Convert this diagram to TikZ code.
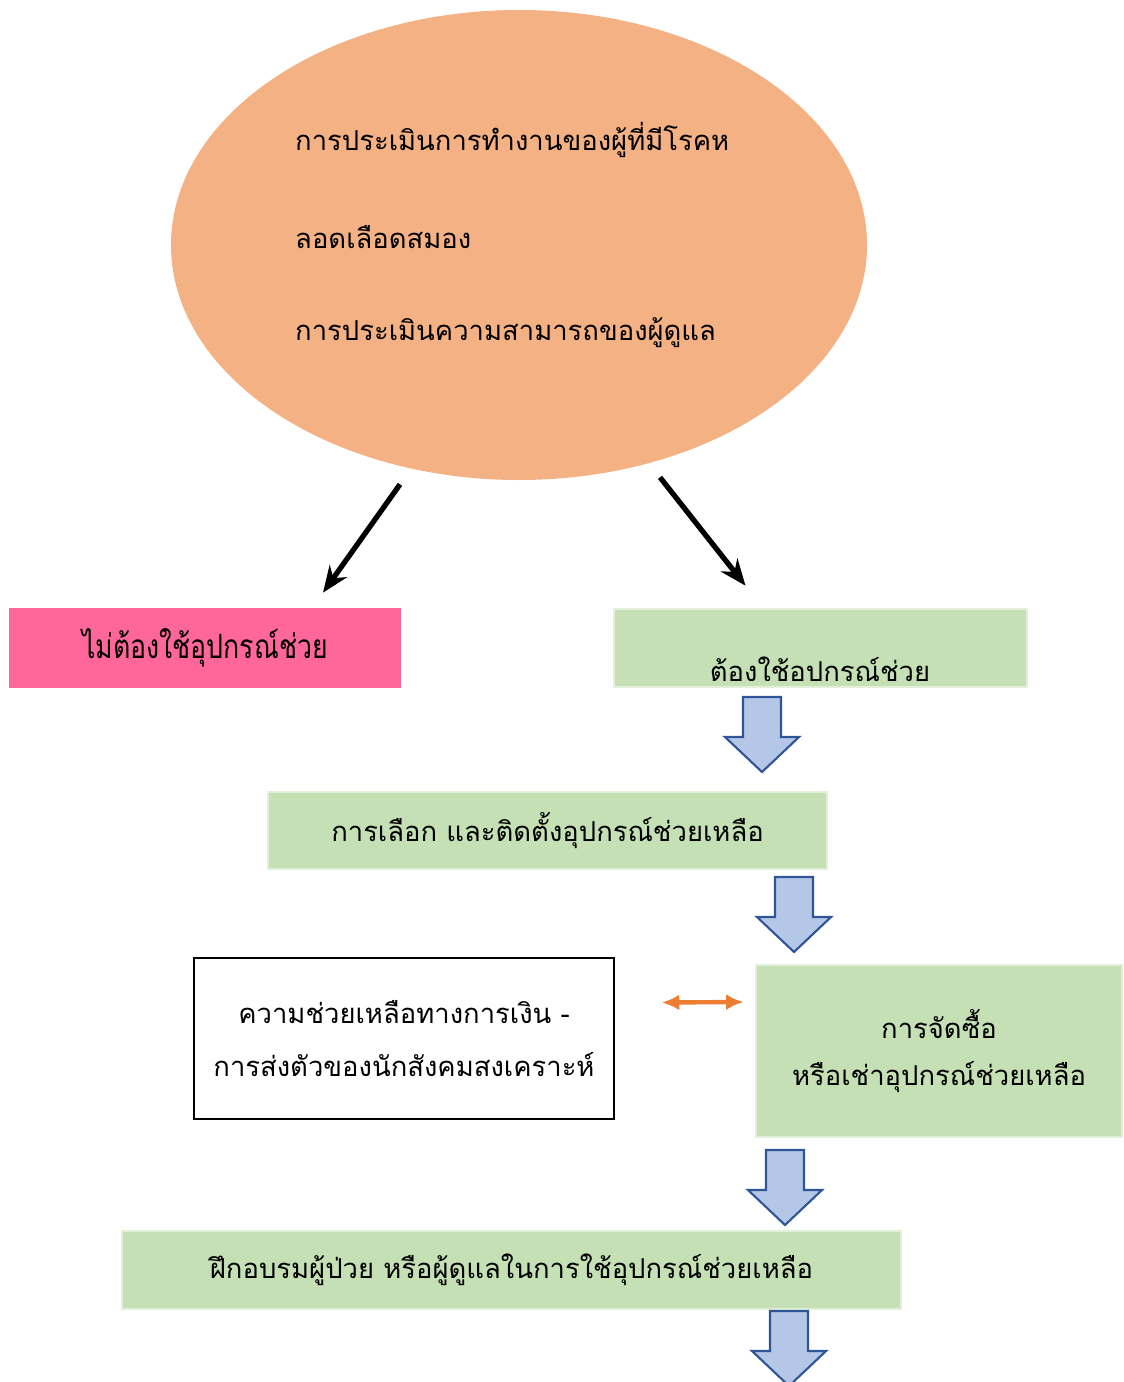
\documentclass[tikz,border=0pt]{standalone}
\usepackage{fontspec}
\setmainfont[Script=Thai]{Loma}
\newfontfamily\narrowthai[Script=Thai, FakeStretch=0.8]{Loma}
\usetikzlibrary{calc,arrows.meta,shapes.geometric}

\definecolor{ovalfill}{HTML}{F4B183}
\definecolor{pinkfill}{HTML}{FF6699}
\definecolor{greenfill}{HTML}{C5E0B4}
\definecolor{greenedge}{HTML}{E2F0D9}
\definecolor{bluefill}{HTML}{B4C7E7}
\definecolor{blueedge}{HTML}{2F5597}
\definecolor{orangeline}{HTML}{ED7D31}

\def\px{0.02cm}
\tikzset{
  greenbox/.style={fill=greenfill, draw=greenedge, line width=1.5pt, inner sep=0pt},
  blockarrow/.style={fill=bluefill, draw=blueedge, line width=1.2pt, line join=miter},
  thaitext/.style={font=\fontsize{15.6}{18}\selectfont}
}

\begin{document}
\begin{tikzpicture}[x=0.02cm, y=-0.02cm]
    \clip (0,0) rectangle (1123,1382);
    \node[ellipse, fill=ovalfill, minimum width=696*\px, minimum height=470*\px, inner sep=0pt] (assess) at (519,245) {};
    \node[thaitext, anchor=west] (line1) at (289,140) {การประเมินการทำงานของผู้ที่มีโรคห};
    \node[thaitext, anchor=west] (line2) at (289,237) {ลอดเลือดสมอง};
    \node[thaitext, anchor=west] (line3) at (289,333) {การประเมินความสามารถของผู้ดูแล};
    \node[fill=pinkfill, minimum width=392*\px, minimum height=80*\px, inner sep=0pt, font=\narrowthai\fontsize{19}{22}\selectfont] (noaid) at (205,648) {ไม่ต้องใช้อุปกรณ์ช่วย};
    \node[greenbox, minimum width=413*\px, minimum height=78*\px] (needaid) at (820.5,648) {};
    \begin{scope}
        \clip ($(needaid.south west)+(0,-8)$) rectangle (needaid.north east);
        \node[thaitext] (needtext) at (820,673) {ต้องใช้อุปกรณ์ช่วย};
    \end{scope}
    \draw[line width=3pt, -{Stealth[length=15pt, width=12pt]}] ($(assess.south)+(-119,4)$) -- ($(noaid.north)+(118,-15)$);
    \draw[line width=3pt, -{Stealth[length=15pt, width=12pt]}] ($(assess.south)+(141,-3)$) -- ($(needaid.north)+(-75,-22)$);
    \node[greenbox, thaitext, minimum width=559*\px, minimum height=77*\px] (select) at (547.5,830.5) {การเลือก และติดตั้งอุปกรณ์ช่วยเหลือ};
    \node[draw, line width=0.8pt, minimum width=420*\px, minimum height=161*\px, inner sep=0pt, align=center, thaitext] (fund) at (404,1038.5)
        {ความช่วยเหลือทางการเงิน -\\[12pt]การส่งตัวของนักสังคมสงเคราะห์};
    \node[greenbox, minimum width=366*\px, minimum height=172*\px, align=center, thaitext] (buy) at (939,1051)
        {การจัดซื้อ\\[9pt]หรือเช่าอุปกรณ์ช่วยเหลือ};
    \draw[orangeline, line width=2.5pt, {Latex[length=10pt, width=9pt]}-{Latex[length=10pt, width=9pt]}] ($(fund.east)+(47,-36)$) -- ($(buy.west)+(-11,-49)$);
    \node[greenbox, thaitext, minimum width=779*\px, minimum height=78*\px] (train) at (511.5,1270) {ฝึกอบรมผู้ป่วย หรือผู้ดูแลในการใช้อุปกรณ์ช่วยเหลือ};
    % hollow block arrows down the chain
    \foreach \x/\y in {762/697, 794/877, 785/1150, 789/1311}
        \draw[blockarrow] (\x-19,\y) -- (\x+19,\y) -- (\x+19,\y+40) -- (\x+37,\y+40) -- (\x,\y+75) -- (\x-37,\y+40) -- (\x-19,\y+40) -- cycle;
\end{tikzpicture}
\end{document}
